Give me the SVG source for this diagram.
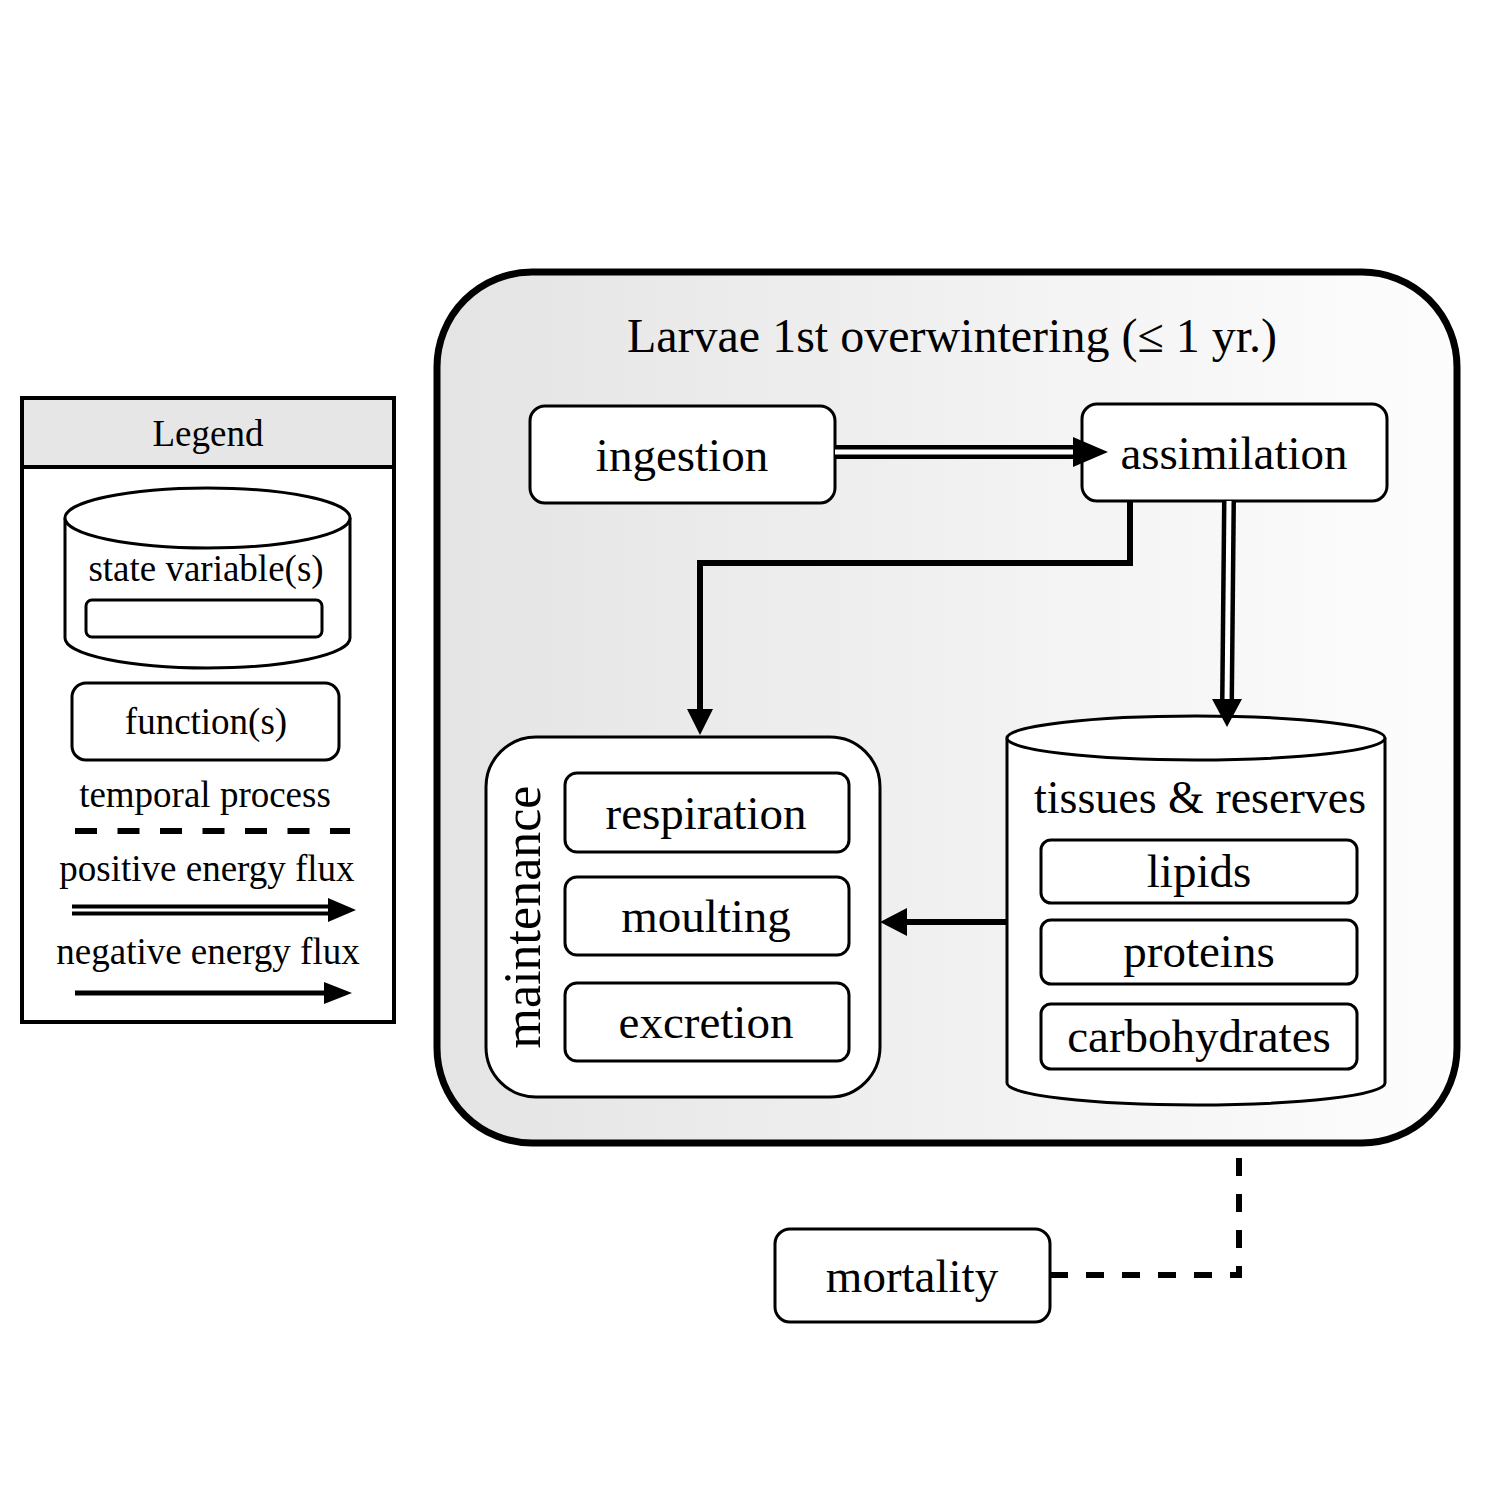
<svg xmlns="http://www.w3.org/2000/svg" width="1500" height="1500" viewBox="0 0 1500 1500">
<defs>
<linearGradient id="bg" x1="0" y1="0" x2="1" y2="0">
<stop offset="0" stop-color="#e4e4e4"/>
<stop offset="1" stop-color="#fdfdfd"/>
</linearGradient>
</defs>
<style>
text{font-family:"Liberation Serif","Times New Roman",serif;fill:#000;text-anchor:middle}
.t47{font-size:47px}
.t37{font-size:37px}
.box{fill:#fff;stroke:#000;stroke-width:3}
.neg{fill:none;stroke:#000;stroke-width:6}
.dbo{fill:none;stroke:#000;stroke-width:14}
.dbi{fill:none;stroke:#fff;stroke-width:5}
.dash{fill:none;stroke:#000;stroke-width:6;stroke-dasharray:18 18}
</style>
<rect width="1500" height="1500" fill="#fff"/>

<g id="legend">
<rect x="22" y="398" width="372" height="624" fill="#fff" stroke="#000" stroke-width="4"/>
<rect x="22" y="398" width="372" height="69" fill="#e6e6e6" stroke="#000" stroke-width="4"/>
<text class="t37" x="208" y="446">Legend</text>
<path d="M65,518 V638 A142.5,30 0 0 0 350,638 V518" fill="#fff" stroke="#000" stroke-width="3"/>
<ellipse cx="207.5" cy="518" rx="142.5" ry="30" fill="#fff" stroke="#000" stroke-width="3"/>
<text class="t37" x="206" y="581">state variable(s)</text>
<rect x="86" y="600" width="236" height="37" rx="6" fill="#fff" stroke="#000" stroke-width="3"/>
<rect x="72" y="683" width="267" height="77" rx="14" class="box"/>
<text class="t37" x="206" y="734">function(s)</text>
<text class="t37" x="205" y="807">temporal process</text>
<line x1="75" y1="831" x2="350" y2="831" stroke="#000" stroke-width="6" stroke-dasharray="22 20.5"/>
<text class="t37" x="207" y="881">positive energy flux</text>
<line x1="72" y1="910" x2="334" y2="910" stroke="#000" stroke-width="11"/>
<line x1="72" y1="910" x2="336" y2="910" stroke="#fff" stroke-width="3"/>
<polygon points="328,898 356,910 328,922"/>
<text class="t37" x="208" y="964">negative energy flux</text>
<line x1="75" y1="993" x2="328" y2="993" stroke="#000" stroke-width="5"/>
<polygon points="324,982 352,993 324,1004"/>
</g>

<g id="container">
<rect x="437" y="272" width="1020" height="871" rx="95" fill="url(#bg)" stroke="#000" stroke-width="7"/>
<text x="952" y="352" style="font-size:48px">Larvae 1st overwintering (≤ 1 yr.)</text>
</g>

<g id="ingestion">
<rect x="530" y="406" width="305" height="97" rx="15" class="box"/>
<text class="t47" x="682" y="471">ingestion</text>
</g>

<g id="assimilation">
<rect x="1082" y="404" width="305" height="97" rx="15" class="box"/>
<text class="t47" x="1234" y="469">assimilation</text>
</g>

<g id="maintenance">
<rect x="486" y="737" width="394" height="360" rx="50" class="box"/>
<text x="540" y="917" transform="rotate(-90 540 917)" style="font-size:52px">maintenance</text>
<rect x="565" y="773" width="284" height="79" rx="12" class="box"/>
<text class="t47" x="706" y="829">respiration</text>
<rect x="565" y="877" width="284" height="78" rx="12" class="box"/>
<text class="t47" x="706" y="932">moulting</text>
<rect x="565" y="983" width="284" height="78" rx="12" class="box"/>
<text class="t47" x="706" y="1038">excretion</text>
</g>

<g id="tissues">
<path d="M1007,738 V1083 A189,22 0 0 0 1385,1083 V738" fill="#fff" stroke="#000" stroke-width="3"/>
<ellipse cx="1196" cy="738" rx="189" ry="22" fill="#fff" stroke="#000" stroke-width="3"/>
<text x="1200" y="813" style="font-size:46px">tissues &amp; reserves</text>
<rect x="1041" y="840" width="316" height="63" rx="10" class="box"/>
<text class="t47" x="1199" y="887">lipids</text>
<rect x="1041" y="920" width="316" height="64" rx="10" class="box"/>
<text class="t47" x="1199" y="967">proteins</text>
<rect x="1041" y="1004" width="316" height="65" rx="10" class="box"/>
<text class="t47" x="1199" y="1052">carbohydrates</text>
</g>

<g id="mortality">
<rect x="775" y="1229" width="275" height="93" rx="15" class="box"/>
<text class="t47" x="912" y="1292">mortality</text>
</g>

<g id="connectors">
<line x1="835" y1="452" x2="1078" y2="452" class="dbo"/>
<line x1="835" y1="452" x2="1082" y2="452" class="dbi"/>
<polygon points="1073,437 1108,452 1073,467"/>
<line x1="1229" y1="501" x2="1227" y2="702" class="dbo"/>
<line x1="1229" y1="501" x2="1227" y2="704" class="dbi"/>
<polygon points="1212,699 1242,699 1227,727"/>
<path d="M1130,501 V563 H700 V712" class="neg"/>
<polygon points="687,709 713,709 700,735"/>
<line x1="1007" y1="922" x2="904" y2="922" class="neg"/>
<polygon points="907,908 907,936 880,922"/>
<path d="M1050,1275 H1239 V1158" class="dash"/>
</g>
</svg>
